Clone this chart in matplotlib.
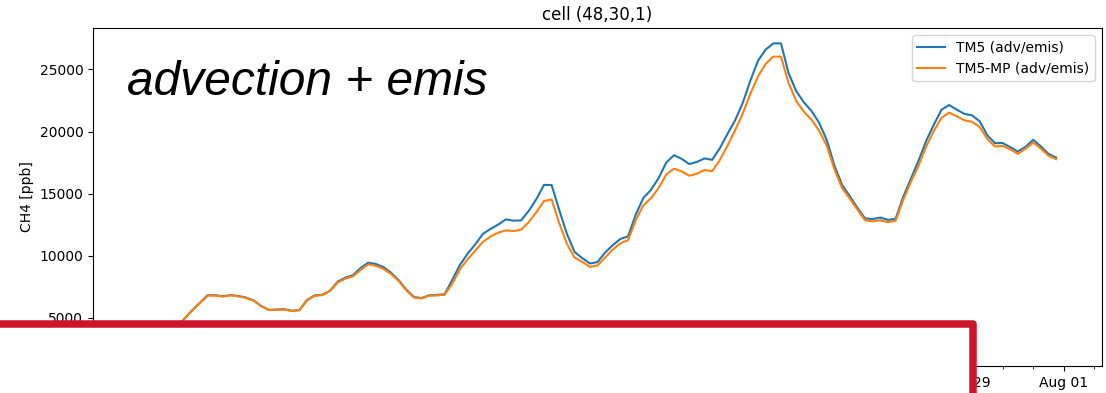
import matplotlib
matplotlib.use("Agg")
import matplotlib.pyplot as plt
import matplotlib.dates as mdates
from matplotlib.patches import Rectangle
import pandas as pd

# 6-hourly CH4 mixing ratios [ppb] in grid cell (48,30,1), Jul 1 18:00 .. Jul 31 18:00
times = pd.date_range("2010-07-01 18:00", "2010-07-31 18:00", freq="6h")

tm5_adv_emis = [
    2350,
    2450, 2650, 2950, 3450,
    4200, 4960, 5610, 6220,
    6820, 6810, 6730, 6830,
    6750, 6630, 6400, 5950,
    5640, 5660, 5690, 5560,
    5620, 6430, 6800, 6850,
    7170, 7900, 8230, 8420,
    9000, 9440, 9330, 9080,
    8620, 8020, 7260, 6660,
    6590, 6810, 6840, 6900,
    8050, 9250, 10150, 10900,
    11750, 12150, 12500, 12920,
    12820, 12840, 13600, 14550,
    15700, 15690, 13660, 11750,
    10300, 9800, 9370, 9480,
    10250, 10850, 11350, 11550,
    13300, 14650, 15300, 16250,
    17500, 18090, 17800, 17380,
    17550, 17830, 17720, 18650,
    19800, 20900, 22300, 24100,
    25700, 26600, 27100, 27100,
    24700, 23250, 22350, 21650,
    20700, 19300, 17250, 15700,
    14800, 13850, 13000, 12950,
    13070, 12880, 12970, 14750,
    16200, 17650, 19250, 20550,
    21750, 22140, 21760, 21420,
    21300, 20820, 19700, 19060,
    19070, 18740, 18390, 18770,
    19330, 18800, 18200, 17900,
]

tm5mp_adv_emis = [
    2350,
    2450, 2650, 2950, 3450,
    4200, 4950, 5600, 6200,
    6790, 6780, 6710, 6800,
    6720, 6600, 6380, 5930,
    5620, 5640, 5660, 5540,
    5600, 6400, 6770, 6820,
    7150, 7830, 8150, 8330,
    8850, 9300, 9180, 8930,
    8520, 7950, 7200, 6620,
    6560, 6780, 6800, 6850,
    7750, 8900, 9700, 10400,
    11100, 11550, 11850, 12040,
    11990, 12080, 12700, 13500,
    14400, 14530, 12600, 10950,
    9850, 9500, 9100, 9210,
    9850, 10500, 11000, 11250,
    12870, 14050, 14630, 15450,
    16550, 17000, 16800, 16440,
    16600, 16900, 16800, 17700,
    18850, 20100, 21450, 23050,
    24450, 25450, 26030, 26030,
    23900, 22450, 21600, 20950,
    20050, 18850, 16950, 15450,
    14600, 13700, 12850, 12760,
    12850, 12700, 12820, 14500,
    15950, 17250, 18800, 20050,
    21100, 21520, 21230, 20900,
    20780, 20360, 19400, 18790,
    18840, 18560, 18200, 18620,
    19110, 18620, 18050, 17770,
]

series_labels = ["TM5 (adv/emis)", "TM5-MP (adv/emis)"]
title = "cell (48,30,1)"
ylabel = "CH4 [ppb]"
note = "advection + emis"

plt.rcParams["font.size"] = 10

fig = plt.figure(figsize=(11.06, 3.93), dpi=100)
ax = fig.add_axes([93 / 1106, 1 - 366 / 393, 1009 / 1106, 338 / 393])

ax.plot(times, tm5_adv_emis, color="tab:blue", label=series_labels[0])
ax.plot(times, tm5mp_adv_emis, color="tab:orange", label=series_labels[1])

ax.set_title(title)
ax.set_ylabel(ylabel)
ax.legend(loc="upper right")

# major ticks every third day ending on Aug 01, minor ticks daily
major_days = pd.date_range(end="2010-08-01", periods=12, freq="3D")
ax.xaxis.set_major_locator(matplotlib.ticker.FixedLocator(mdates.date2num(major_days)))
ax.xaxis.set_major_formatter(mdates.DateFormatter("%b %d"))
ax.xaxis.set_minor_locator(mdates.DayLocator())

ax.text(0.034, 0.802, note, transform=ax.transAxes, fontsize=34.5,
        style="italic", family=["Liberation Sans", "DejaVu Sans"],
        ha="left", va="baseline")

# framed white panel over the lower left part of the figure
box_right = 972.5 / 1106
box_top = 1 - 323.8 / 393
panel = Rectangle((-0.05, -0.2), box_right + 0.05, box_top + 0.2,
                  transform=fig.transFigure, facecolor="white",
                  edgecolor="#CE1428", linewidth=5.4, joinstyle="round",
                  zorder=10, clip_on=False)
fig.add_artist(panel)

fig.savefig("out.png", dpi=100)
